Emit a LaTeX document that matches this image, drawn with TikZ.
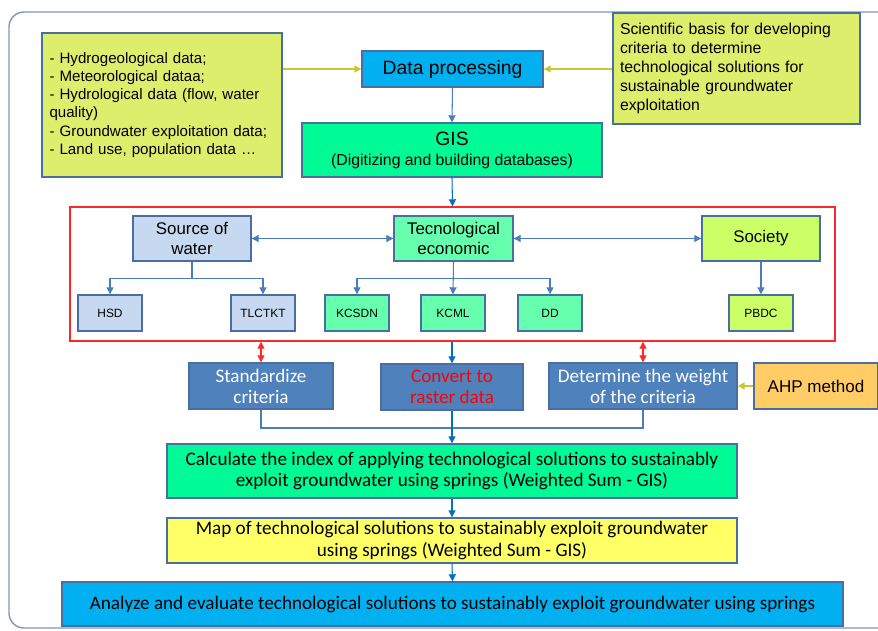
\documentclass[tikz,border=0pt]{standalone}
\usepackage{fontspec}
\setmainfont{Liberation Sans}
\newfontfamily\calfont{Carlito}
\usetikzlibrary{arrows.meta,positioning,calc}
\usepackage{xcolor}

\definecolor{boxline}{RGB}{74,110,160}
\definecolor{framec}{RGB}{128,150,180}
\definecolor{limec}{RGB}{220,238,108}
\definecolor{procc}{RGB}{0,176,240}
\definecolor{gisc}{RGB}{0,250,150}
\definecolor{srcc}{RGB}{198,217,241}
\definecolor{tecc}{RGB}{102,255,174}
\definecolor{socc}{RGB}{204,255,102}
\definecolor{stdc}{RGB}{79,129,189}
\definecolor{ahpc}{RGB}{255,204,102}
\definecolor{mapc}{RGB}{255,255,102}
\definecolor{redc}{RGB}{255,40,40}
\definecolor{arrc}{RGB}{74,126,187}
\definecolor{darkarrc}{RGB}{0,112,192}
\definecolor{yarrc}{RGB}{200,200,50}

\begin{document}
\begin{tikzpicture}[x=0.02cm, y=-0.02cm,
    box/.style={draw=boxline, line width=0.8pt, inner sep=0pt, align=center},
    smallbox/.style={box, minimum width=1.28cm, minimum height=0.72cm, font=\fontsize{6.8}{8}\selectfont},
    groupbox/.style={box, minimum width=2.36cm, minimum height=0.9cm, font=\fontsize{9.6}{11.3}\selectfont},
    stepbox/.style={box, fill=stdc, minimum height=0.92cm, text=white, font=\calfont\fontsize{10.9}{12}\selectfont},
    barr/.style={draw=arrc, line width=0.6pt, -{Triangle[length=4pt,width=4pt]}},
    dbarr/.style={draw=darkarrc, line width=0.6pt, -{Triangle[length=4pt,width=4pt]}},
    bline/.style={draw=arrc, line width=0.6pt},
    rarr/.style={draw=redc, line width=0.6pt, {Triangle[length=4pt,width=4pt]}-{Triangle[length=4pt,width=4pt]}},
    yarr/.style={draw=yarrc, line width=0.8pt, -{Triangle[length=4pt,width=4pt]}}]
    \useasboundingbox (0,0) rectangle (878,630);

    % Outer frame
    \draw[framec, line width=0.8pt, rounded corners=0.3cm] (9,12) rectangle (905,628);

    % Inputs and data processing
    \node[box, fill=limec, text width=4.5cm, inner sep=0.15cm, minimum height=2.88cm, align=left, font=\fontsize{8.6}{10.3}\selectfont] (inputs) at (162,105) {- Hydrogeological data;\\- Meteorological dataa;\\- Hydrological data (flow, water\\quality)\\- Groundwater exploitation data;\\- Land use, population data \dots};
    \node[box, fill=procc, minimum width=3.62cm, minimum height=0.72cm, font=\fontsize{11}{13}\selectfont] (proc) at (452.5,69) {Data processing};
    \node[box, fill=limec, text width=4.66cm, inner sep=0.14cm, minimum height=2.22cm, align=left, font=\fontsize{9}{10.9}\selectfont] (basis) at (736.5,68.5) {Scientific basis for developing\\criteria to determine\\technological solutions for\\sustainable groundwater\\exploitation};
    \node[box, fill=gisc, minimum width=6cm, minimum height=1.08cm, font=\fontsize{9}{11.5}\selectfont] (gis) at (452,150) {{\fontsize{11}{12}\selectfont GIS}\\(Digitizing and building databases)};

    \draw[yarr] (inputs.east |- proc.west) -- (proc.west);
    \draw[yarr] (basis.west |- proc.east) -- (proc.east);
    \draw[barr] (proc.south) -- (gis.north);

    % Criteria group
    \node[draw=redc, line width=0.8pt, minimum width=15.3cm, minimum height=2.68cm, inner sep=0pt] (crit) at (452.5,274) {};
    \draw[dbarr] (gis.south) -- (crit.north);

    \node[groupbox, fill=srcc] (src) at (192,238.5) {Source of\\water};
    \node[groupbox, fill=tecc, minimum width=2.38cm] (tec) at (453.5,238.5) {Tecnological\\economic};
    \node[groupbox, fill=socc] (soc) at (761,238.5) {Society};

    \node[smallbox, fill=srcc] (hsd) at (110,313) {HSD};
    \node[smallbox, fill=srcc] (tlc) at (263,313) {TLCTKT};
    \node[smallbox, fill=tecc] (kcsdn) at (357,313) {KCSDN};
    \node[smallbox, fill=tecc] (kcml) at (453,313) {KCML};
    \node[smallbox, fill=tecc] (dd) at (550,313) {DD};
    \node[smallbox, fill=socc] (pbdc) at (761,313) {PBDC};

    \draw[barr, {Triangle[length=4pt,width=4pt]}-{Triangle[length=4pt,width=4pt]}] (src.east) -- (tec.west);
    \draw[barr, {Triangle[length=4pt,width=4pt]}-{Triangle[length=4pt,width=4pt]}] (tec.east) -- (soc.west);
    \draw[barr] (src.south) -- ++(0,17) -| (hsd.north);
    \draw[barr] (src.south) -- ++(0,17) -| (tlc.north);
    \draw[barr] (tec.south) -- ++(0,17) -| (kcsdn.north);
    \draw[barr] (tec.south) -- (kcml.north);
    \draw[barr] (tec.south) -- ++(0,17) -| (dd.north);
    \draw[barr] (soc.south) -- (pbdc.north);

    % Processing steps
    \node[stepbox, minimum width=2.88cm] (std) at (261,386) {Standardize\\criteria};
    \node[stepbox, minimum width=2.84cm, text=red] (conv) at (452,387) {Convert to\\raster data};
    \node[stepbox, minimum width=3.76cm] (weight) at (643,386) {Determine the weight\\of the criteria};
    \node[box, fill=ahpc, minimum width=2.48cm, minimum height=0.92cm, font=\fontsize{9.7}{11}\selectfont] (ahp) at (816,386) {AHP method};

    \draw[rarr] (crit.south -| std.north) -- (std.north);
    \draw[rarr] (crit.south -| weight.north) -- (weight.north);
    \draw[dbarr] (crit.south -| conv.north) -- (conv.north);
    \draw[yarr] (ahp.west) -- (weight.east);

    % Results
    \node[box, fill=gisc, minimum width=11.4cm, minimum height=1.08cm, font=\calfont\fontsize{10.9}{12}\selectfont] (calc) at (452,471) {Calculate the index of applying technological solutions to sustainably\\exploit groundwater using springs (Weighted Sum - GIS)};
    \node[box, fill=mapc, minimum width=11.4cm, minimum height=0.9cm, font=\calfont\fontsize{10.9}{12}\selectfont] (map) at (452,540.5) {Map of technological solutions to sustainably exploit groundwater\\using springs (Weighted Sum - GIS)};
    \node[box, fill=procc, minimum width=15.62cm, minimum height=0.88cm, font=\calfont\fontsize{10.9}{12}\selectfont] (anal) at (452.5,604) {Analyze and evaluate technological solutions to sustainably exploit groundwater using springs};

    \coordinate (join) at (452,428);
    \draw[bline] (std.south) |- (join);
    \draw[bline] (weight.south) |- (join);
    \draw[dbarr] (conv.south) -- (calc.north);
    \draw[dbarr] (calc.south) -- (map.north);
    \draw[dbarr] (map.south) -- (anal.north);
\end{tikzpicture}
\end{document}
